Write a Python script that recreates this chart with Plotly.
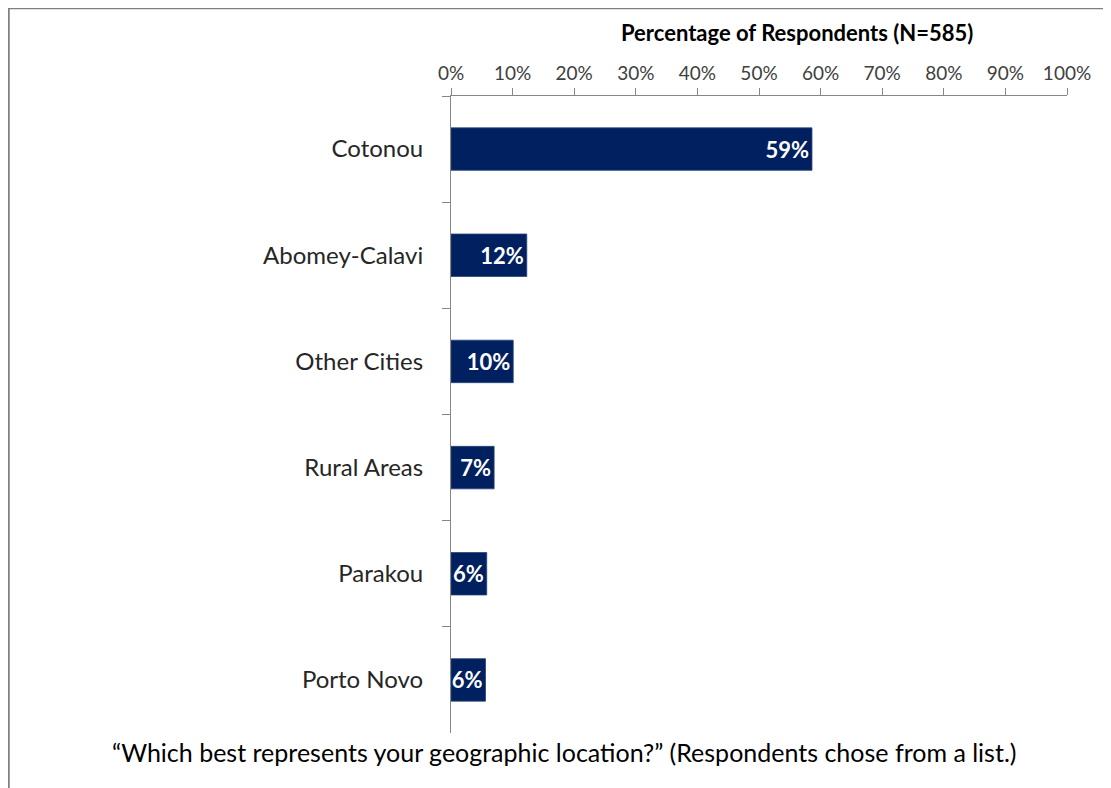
import plotly.graph_objects as go

categories = ["Cotonou", "Abomey-Calavi", "Other Cities", "Rural Areas", "Parakou", "Porto Novo"]
values = [58.6, 12.3, 10.1, 7.0, 5.8, 5.6]
x_ticks = [0, 10, 20, 30, 40, 50, 60, 70, 80, 90, 100]
x_tick_labels = [f"{t}%" for t in x_ticks]
axis_title = "<b>Percentage of Respondents (N=585)</b>"
footnote = "\u201cWhich best represents your geographic location?\u201d (Respondents chose from a list.)"

FONT = "Lato, Calibri, 'Open Sans', sans-serif"

# page has an 8px body margin; figure is laid out in its own coordinates
W, H = 1103, 780
L, R, T, B = 443, 44, 88, 55
PW = W - L - R
PH = H - T - B

def px_to_paper_x(px):
    return (px - 8 - L) / PW

def px_to_paper_y(py):
    return 1 - (py - 8 - T) / PH

fig = go.Figure(
    go.Bar(
        y=categories,
        x=values,
        orientation="h",
        marker=dict(color="#002060", line=dict(color="#2a4479", width=0.8)),
        texttemplate="%{x:.0f}%",
        textposition="inside",
        insidetextanchor="end",
        textangle=0,
        constraintext="none",
        textfont=dict(family=FONT, size=22, color="white", weight="bold"),
        hoverinfo="skip",
    )
)

fig.update_layout(
    width=W,
    height=H,
    margin=dict(l=L, r=R, t=T, b=B),
    paper_bgcolor="white",
    plot_bgcolor="white",
    showlegend=False,
    bargap=0.6,
    font=dict(family=FONT, color="#262626"),
    xaxis=dict(
        side="top",
        range=[0, 100],
        tickvals=x_ticks,
        ticktext=x_tick_labels,
        ticks="outside",
        ticklen=7,
        tickcolor="#868686",
        showline=True,
        linecolor="#868686",
        linewidth=1,
        showgrid=False,
        zeroline=False,
        tickfont=dict(family=FONT, size=19, color="#404040"),
        fixedrange=True,
    ),
    yaxis=dict(
        autorange="reversed",
        ticks="outside",
        tickson="boundaries",
        ticklen=8,
        tickcolor="#868686",
        showline=True,
        linecolor="#868686",
        linewidth=1,
        showgrid=False,
        tickfont=dict(family=FONT, size=24, color="#262626"),
        ticklabelstandoff=22,
        fixedrange=True,
    ),
    annotations=[
        dict(
            text=axis_title,
            xref="paper", yref="paper",
            x=px_to_paper_x(797), y=px_to_paper_y(33),
            xanchor="center", yanchor="middle",
            showarrow=False,
            font=dict(family=FONT, size=22, color="#000000"),
        ),
        dict(
            text=footnote,
            xref="paper", yref="paper",
            x=px_to_paper_x(564), y=px_to_paper_y(752),
            xanchor="center", yanchor="middle",
            showarrow=False,
            font=dict(family=FONT, size=25, color="#000000"),
        ),
    ],
    shapes=[
        dict(type="line", xref="paper", yref="paper",
             x0=px_to_paper_x(8.5), x1=px_to_paper_x(8.5),
             y0=px_to_paper_y(800), y1=px_to_paper_y(8),
             line=dict(color="#808080", width=2.5)),
        dict(type="line", xref="paper", yref="paper",
             x0=px_to_paper_x(8.5), x1=px_to_paper_x(1120),
             y0=px_to_paper_y(8), y1=px_to_paper_y(8),
             line=dict(color="#808080", width=2.5)),
    ],
)

fig.write_html("out.html")
